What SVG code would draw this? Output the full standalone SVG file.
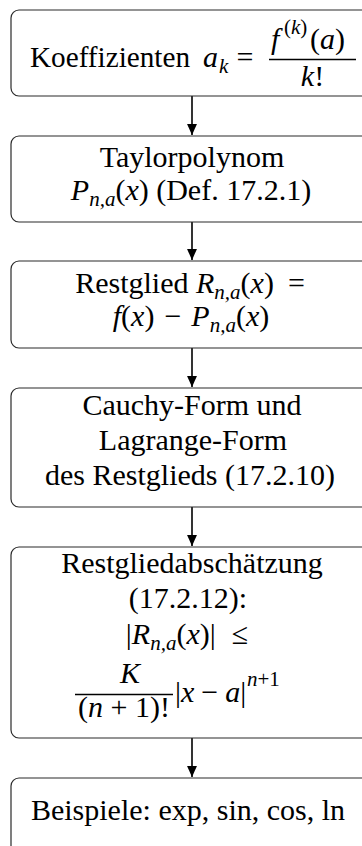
<svg xmlns="http://www.w3.org/2000/svg" width="362" height="846" viewBox="0 0 362 846">
<style>
.box { fill: #ffffff; stroke: #2a2a2a; stroke-width: 1.2; }
.t { font-family: "Liberation Serif", "DejaVu Serif", serif; font-size: 30px; fill: #000; }
.i { font-style: italic; }
.s { font-size: 21px; }
.c { text-anchor: middle; }
.bar { stroke: #000; stroke-width: 1.3; }
.edge { stroke: #000; stroke-width: 1.6; fill: none; }
</style>
<defs>
<marker id="arr" markerWidth="11" markerHeight="13" refX="10" refY="5" orient="auto" markerUnits="userSpaceOnUse" viewBox="0 0 10 10">
<path d="M0,0.5 L10,5 L0,9.5 Z" fill="#000"/>
</marker>
</defs>
<rect width="362" height="846" fill="#ffffff"/>

<g id="connectors">
<line class="edge" x1="192" y1="96" x2="192" y2="135" marker-end="url(#arr)"/>
<line class="edge" x1="192" y1="222" x2="192" y2="260" marker-end="url(#arr)"/>
<line class="edge" x1="192" y1="348" x2="192" y2="387" marker-end="url(#arr)"/>
<line class="edge" x1="192" y1="507" x2="192" y2="546" marker-end="url(#arr)"/>
<line class="edge" x1="192" y1="738" x2="192" y2="777" marker-end="url(#arr)"/>
</g>

<g id="n1">
<rect class="box" x="11" y="10" width="363" height="86" rx="8"/>
<text class="t" x="30" y="67" textLength="160" lengthAdjust="spacingAndGlyphs">Koeffizienten</text>
<text class="t i" x="203" y="67">a</text>
<text class="t i s" x="219" y="73">k</text>
<text class="t c" x="245" y="67">=</text>
<text class="t" x="271" y="49"><tspan class="i">f</tspan></text>
<text class="t s" x="284" y="34">(<tspan class="i">k</tspan>)</text>
<text class="t" x="310" y="49">(<tspan class="i">a</tspan>)</text>
<line class="bar" x1="269" y1="59.5" x2="356" y2="59.5"/>
<text class="t c" x="312.5" y="86"><tspan class="i">k</tspan>!</text>
</g>

<g id="n2">
<rect class="box" x="11" y="136" width="363" height="86" rx="8"/>
<text class="t c" x="192" y="167">Taylorpolynom</text>
<text class="t c" x="191" y="200"><tspan class="i">P</tspan><tspan class="i s" dy="6">n,a</tspan><tspan dy="-6">(</tspan><tspan class="i">x</tspan>) (Def. 17.2.1)</text>
</g>

<g id="n3">
<rect class="box" x="11" y="261" width="363" height="87" rx="8"/>
<text class="t c" x="190" y="293">Restglied <tspan class="i">R</tspan><tspan class="i s" dy="6">n,a</tspan><tspan dy="-6">(</tspan><tspan class="i">x</tspan>)<tspan dx="14">=</tspan></text>
<text class="t c" x="191" y="326"><tspan class="i">f</tspan>(<tspan class="i">x</tspan>)<tspan dx="10">−</tspan><tspan class="i" dx="10">P</tspan><tspan class="i s" dy="6">n,a</tspan><tspan dy="-6">(</tspan><tspan class="i">x</tspan>)</text>
</g>

<g id="n4">
<rect class="box" x="11" y="388" width="363" height="119" rx="8"/>
<text class="t c" x="192" y="415">Cauchy-Form und</text>
<text class="t c" x="193" y="450">Lagrange-Form</text>
<text class="t c" x="190" y="485">des Restglieds (17.2.10)</text>
</g>

<g id="n5">
<rect class="box" x="11" y="547" width="363" height="191" rx="8"/>
<text class="t c" x="192" y="573">Restgliedabschätzung</text>
<text class="t c" x="188" y="608">(17.2.12):</text>
<text class="t c" x="187" y="644">|<tspan class="i">R</tspan><tspan class="i s" dy="6">n,a</tspan><tspan dy="-6">(</tspan><tspan class="i">x</tspan>)|<tspan dx="16">≤</tspan></text>
<text class="t i c" x="130" y="683">K</text>
<line class="bar" x1="75" y1="694.5" x2="173" y2="694.5"/>
<text class="t c" x="124" y="717">(<tspan class="i">n</tspan> + 1)!</text>
<text class="t" x="175" y="702">|<tspan class="i">x</tspan><tspan dx="7">−</tspan><tspan class="i" dx="7">a</tspan>|</text>
<text class="t s" x="247" y="686"><tspan class="i">n</tspan>+1</text>
</g>

<g id="n6">
<rect class="box" x="11" y="778" width="363" height="100" rx="8"/>
<text class="t c" x="188" y="820">Beispiele: exp, sin, cos, ln</text>
</g>
</svg>
